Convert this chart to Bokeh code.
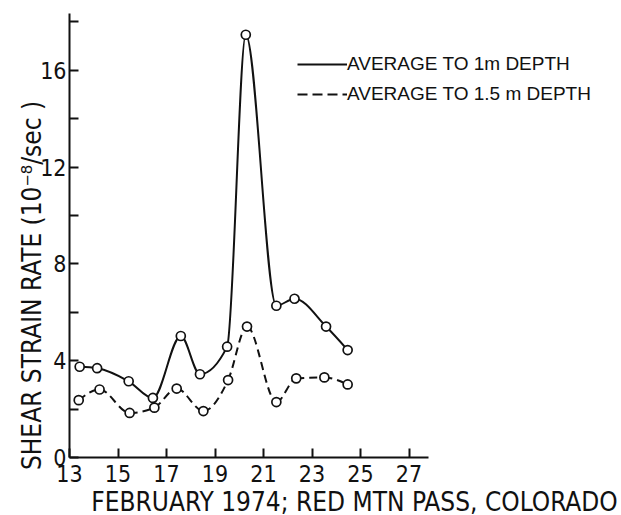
import numpy as np
from bokeh.plotting import figure
from bokeh.models import Range1d, FixedTicker, Legend, LegendItem, Label
from bokeh.embed import file_html
from bokeh.resources import INLINE

# ---- data ----
days_1m = [13.42, 14.14, 15.44, 16.44, 17.59, 18.38, 19.50, 20.27, 21.53, 22.28, 23.58, 24.47]
rate_1m = [3.75, 3.69, 3.15, 2.46, 5.02, 3.44, 4.58, 17.47, 6.27, 6.56, 5.41, 4.44]
days_15m = [13.38, 14.24, 15.48, 16.50, 17.42, 18.52, 19.54, 20.32, 21.53, 22.35, 23.51, 24.47]
rate_15m = [2.37, 2.81, 1.84, 2.06, 2.85, 1.92, 3.20, 5.41, 2.29, 3.27, 3.31, 3.02]

x_ticks = [13, 15, 17, 19, 21, 23, 25, 27]
y_ticks = [0, 2, 4, 6, 8, 10, 12, 14, 16, 18]
y_labelled = [0, 4, 8, 12, 16]

label_1m = "AVERAGE TO 1m DEPTH"
label_15m = "AVERAGE TO 1.5 m DEPTH"
x_title = "FEBRUARY 1974; RED MTN PASS, COLORADO"
y_title = "SHEAR STRAIN RATE (10\u207b\u2078/sec )"

FONT = "DejaVu Sans Condensed, Liberation Sans, sans-serif"
INK = "#111111"


def monotone_bezier(xs, ys):
    """Smooth monotone cubic (as in d3.curveMonotoneX) through the points, as Bezier segments."""
    x = np.asarray(xs, float)
    y = np.asarray(ys, float)
    n = len(x)
    h = np.diff(x)
    s = np.diff(y) / h
    m = np.zeros(n)
    for i in range(1, n - 1):
        s0, s1, h0, h1 = s[i - 1], s[i], h[i - 1], h[i]
        pp = (s0 * h1 + s1 * h0) / (h0 + h1)
        m[i] = (np.sign(s0) + np.sign(s1)) * min(abs(s0), abs(s1), 0.5 * abs(pp))
    m[0] = (3 * s[0] - m[1]) / 2
    m[-1] = (3 * s[-1] - m[-2]) / 2
    d = h / 3.0
    return dict(x0=x[:-1], y0=y[:-1], x1=x[1:], y1=y[1:],
                cx0=x[:-1] + d, cy0=y[:-1] + d * m[:-1],
                cx1=x[1:] - d, cy1=y[1:] - d * m[1:])


W, H = 621, 515
x0_px, px_per_day = 69.0, 24.25      # day 13 sits at x=69 px
y0_px, px_per_unit = 457.0, 24.2     # rate 0 sits at y=457 px
x_start = 13 - x0_px / px_per_day
y_start = -(H - y0_px) / px_per_unit

p = figure(width=W, height=H, output_backend="svg", toolbar_location=None,
           x_range=Range1d(x_start, x_start + W / px_per_day),
           y_range=Range1d(y_start, y_start + H / px_per_unit),
           min_border=0, min_border_left=0, min_border_right=0,
           min_border_top=0, min_border_bottom=0)
p.outline_line_color = None
p.xgrid.visible = False
p.ygrid.visible = False
p.background_fill_color = "white"
p.border_fill_color = "white"

for ax in (p.xaxis[0], p.yaxis[0]):
    ax.axis_line_width = 2
    ax.axis_line_color = INK
    ax.major_tick_line_width = 2
    ax.major_tick_line_color = INK
    ax.major_tick_in = 9
    ax.major_tick_out = 0
    ax.minor_tick_line_color = None
    ax.major_label_text_font = FONT
    ax.major_label_text_font_size = "23px"
    ax.major_label_text_color = INK

p.xaxis.fixed_location = 0
p.xaxis.ticker = FixedTicker(ticks=x_ticks)
p.xaxis.bounds = (13, 27.8)
p.xaxis.major_label_standoff = 7

p.yaxis.fixed_location = 13
p.yaxis.ticker = FixedTicker(ticks=y_ticks)
p.yaxis.bounds = (0, 18.35)
p.yaxis.major_label_standoff = 3
p.yaxis.major_label_overrides = {t: ("" if t not in y_labelled else str(t)) for t in y_ticks}

# curves
p.bezier(line_color=INK, line_width=2, **monotone_bezier(days_1m, rate_1m))
p.bezier(line_color=INK, line_width=2, line_dash="8 5", **monotone_bezier(days_15m, rate_15m))

p.scatter(days_1m, rate_1m, marker="circle", size=9, fill_color="white",
          line_color=INK, line_width=1.7)
p.scatter(days_15m, rate_15m, marker="circle", size=9, fill_color="white",
          line_color=INK, line_width=1.7)

# legend sample lines (no visible data)
r1 = p.line([np.nan, np.nan], [np.nan, np.nan], line_color=INK, line_width=2)
r2 = p.line([np.nan, np.nan], [np.nan, np.nan], line_color=INK, line_width=2, line_dash="10 5")
legend = Legend(items=[LegendItem(label=label_1m, renderers=[r1]),
                       LegendItem(label=label_15m, renderers=[r2])],
                location=(297, 410), glyph_width=50, glyph_height=20, label_height=20,
                label_standoff=0, spacing=8, padding=0, margin=0,
                border_line_color=None, background_fill_alpha=0,
                label_text_font="Liberation Sans", label_text_font_size="19px",
                label_text_color=INK)
p.add_layout(legend, "center")

# axis titles
p.add_layout(Label(x=354, y=14, x_units="screen", y_units="screen", text=x_title,
                   text_align="center", text_baseline="alphabetic",
                   text_font=FONT, text_font_size="26px", text_color=INK))
p.add_layout(Label(x=31.5, y=230, x_units="screen", y_units="screen", text=y_title,
                   angle=np.pi / 2, text_align="center", text_baseline="middle",
                   text_font=FONT, text_font_size="26px", text_color=INK))

open("out.html", "w").write(file_html(p, INLINE))
